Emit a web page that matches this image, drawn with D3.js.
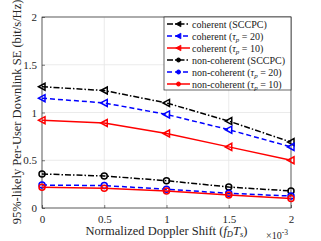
<!DOCTYPE html>
<html>
<head>
<meta charset="utf-8">
<script src="https://cdn.jsdelivr.net/npm/d3@7"></script>
<style>
  body { margin: 0; background: #fff; }
  text { font-family: "Liberation Serif", "DejaVu Serif", serif; }
</style>
</head>
<body>
<div id="chart"></div>
<script>
document.addEventListener('DOMContentLoaded', function() {
    const doppler = [0, 0.5, 1, 1.5, 2];
    const cohSCCPC = [1.27, 1.23, 1.10, 0.91, 0.69];
    const coh20 = [1.15, 1.10, 0.98, 0.82, 0.64];
    const coh10 = [0.92, 0.89, 0.78, 0.64, 0.50];
    const ncSCCPC = [0.356, 0.335, 0.286, 0.22, 0.178];
    const nc20 = [0.24, 0.235, 0.196, 0.154, 0.125];
    const nc10 = [0.216, 0.206, 0.178, 0.136, 0.10];
    const xTicks = [0, 0.5, 1, 1.5, 2];
    const yTicks = [0, 0.5, 1, 1.5, 2];

    const series = [
        { name: "coherent (SCCPC)", vals: cohSCCPC, color: "#000", dash: "6,2,1.5,2", marker: "tri" },
        { name: "coherent (τp = 20)", vals: coh20, color: "#0000ff", dash: "5,3", marker: "tri" },
        { name: "coherent (τp = 10)", vals: coh10, color: "#ff0000", dash: null, marker: "tri" },
        { name: "non-coherent (SCCPC)", vals: ncSCCPC, color: "#000", dash: "6,2,1.5,2", marker: "circ" },
        { name: "non-coherent (τp = 20)", vals: nc20, color: "#0000ff", dash: "5,3", marker: "circ" },
        { name: "non-coherent (τp = 10)", vals: nc10, color: "#ff0000", dash: null, marker: "circ" }
    ];

    const W = 321, H = 241;
    const margin = { top: 17, right: 30, bottom: 33, left: 42 };
    const width = W - margin.left - margin.right;
    const height = H - margin.top - margin.bottom;

    const root = d3.select("#chart").append("svg")
        .attr("width", W).attr("height", H);
    const svg = root.append("g")
        .attr("transform", `translate(${margin.left},${margin.top})`);

    const x = d3.scaleLinear().domain([0, 2]).range([0, width]);
    const y = d3.scaleLinear().domain([0, 2]).range([height, 0]);

    // grid
    svg.append("g").selectAll("line").data(xTicks).enter().append("line")
        .attr("x1", d => x(d)).attr("x2", d => x(d))
        .attr("y1", 0).attr("y2", height)
        .attr("stroke", "#e6e6e6").attr("stroke-width", 0.8);
    svg.append("g").selectAll("line").data(yTicks).enter().append("line")
        .attr("y1", d => y(d)).attr("y2", d => y(d))
        .attr("x1", 0).attr("x2", width)
        .attr("stroke", "#e6e6e6").attr("stroke-width", 0.8);

    const xAxis = svg.append("g")
        .attr("transform", `translate(0,${height})`)
        .call(d3.axisBottom(x).tickValues(xTicks).tickSize(-3).tickPadding(7).tickFormat(d3.format("")));
    const yAxis = svg.append("g")
        .call(d3.axisLeft(y).tickValues(yTicks).tickSize(-3).tickPadding(5).tickFormat(d3.format("")));
    [xAxis, yAxis].forEach(a => {
        a.select(".domain").remove();
        a.selectAll("line").attr("stroke", "#262626").attr("stroke-width", 0.6);
        a.selectAll("text").attr("font-size", 11).attr("fill", "#262626")
            .style("font-family", "Liberation Serif, serif");
    });

    svg.append("rect").attr("width", width).attr("height", height)
        .attr("fill", "none").attr("stroke", "#262626").attr("stroke-width", 0.7);

    const line = d3.line().x((d, i) => x(doppler[i])).y(d => y(d));

    const triPath = "M-3.5,0L3,-3.5L3,3.5Z";

    function drawMarker(g, type, color, cx, cy) {
        if (type === "tri") {
            g.append("path").attr("d", triPath)
                .attr("transform", `translate(${cx},${cy})`)
                .attr("fill", "none").attr("stroke", color).attr("stroke-width", 1.5);
        } else {
            g.append("circle").attr("cx", cx).attr("cy", cy).attr("r", 3)
                .attr("fill", "none").attr("stroke", color).attr("stroke-width", 1.5);
        }
    }

    series.forEach(s => {
        svg.append("path").datum(s.vals)
            .attr("d", line)
            .attr("fill", "none")
            .attr("stroke", s.color)
            .attr("stroke-width", 1.5)
            .attr("stroke-dasharray", s.dash);
        const mg = svg.append("g");
        s.vals.forEach((v, i) => drawMarker(mg, s.marker, s.color, x(doppler[i]), y(v)));
    });

    // legend
    const lg = svg.append("g").attr("transform", `translate(${width - 127},0)`);
    lg.append("rect").attr("width", 127).attr("height", 73)
        .attr("fill", "#fff").attr("stroke", "#262626").attr("stroke-width", 0.7);
    series.forEach((s, i) => {
        const yy = 7 + i * 12;
        lg.append("line").attr("x1", 3).attr("x2", 26).attr("y1", yy).attr("y2", yy)
            .attr("stroke", s.color).attr("stroke-width", 1.5)
            .attr("stroke-dasharray", s.dash);
        if (s.marker === "tri") {
            lg.append("path").attr("d", triPath)
                .attr("transform", `translate(14.5,${yy}) scale(0.8)`)
                .attr("fill", s.color).attr("stroke", s.color);
        } else {
            lg.append("circle").attr("cx", 14.5).attr("cy", yy).attr("r", 2)
                .attr("fill", s.color).attr("stroke", s.color).attr("stroke-width", 1);
        }
        const t = lg.append("text").attr("x", 28).attr("y", yy + 3.5)
            .attr("font-size", 10).attr("fill", "#1a1a1a");
        const m = s.name.match(/^(.*)\(τp = (\d+)\)$/);
        if (m) {
            t.append("tspan").text(m[1] + "(");
            t.append("tspan").attr("font-style", "italic").text("τ");
            t.append("tspan").attr("font-size", 7).attr("font-style", "italic").attr("dy", 2).text("p");
            t.append("tspan").attr("dy", -2).text(" = " + m[2] + ")");
        } else {
            t.text(s.name);
        }
    });

    // axis labels
    const xl = root.append("text")
        .attr("x", margin.left + width / 2).attr("y", 235)
        .attr("text-anchor", "middle").attr("font-size", 12.5).attr("fill", "#262626");
    xl.append("tspan").text("Normalized Doppler Shift (");
    xl.append("tspan").attr("font-style", "italic").text("f");
    xl.append("tspan").attr("font-style", "italic").attr("font-size", 8.5).attr("dy", 2).text("D");
    xl.append("tspan").attr("font-style", "italic").attr("dy", -2).text("T");
    xl.append("tspan").attr("font-style", "italic").attr("font-size", 8.5).attr("dy", 2).text("s");
    xl.append("tspan").attr("dy", -2).text(")");

    const ex = root.append("text")
        .attr("x", 266).attr("y", 239)
        .attr("font-size", 10).attr("fill", "#262626");
    ex.append("tspan").text("×10");
    ex.append("tspan").attr("font-size", 7.5).attr("dy", -4).text("-3");

    root.append("text")
        .attr("transform", `translate(21,${112}) rotate(-90)`)
        .attr("text-anchor", "middle").attr("font-size", 12.5).attr("fill", "#262626")
        .text("95%-likely Per-User Downlink SE (bit/s/Hz)");
});
</script>
</body>
</html>
